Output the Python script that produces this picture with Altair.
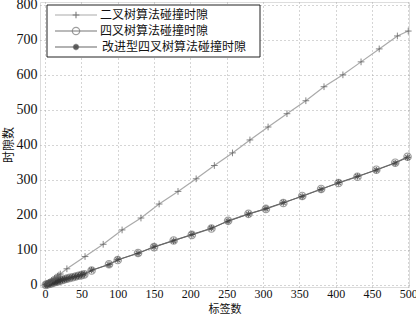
import altair as alt
import pandas as pd

# ---- data ----
bin_x = [1, 3, 5, 7, 9, 11, 13, 15, 17, 19, 21, 30, 55, 80, 106, 132, 157, 183, 208, 233,
         258, 282, 307, 333, 359, 384, 410, 435, 460, 485, 500]
bin_y = [1, 4, 7, 10, 13, 16, 19, 22, 25, 28, 31, 46, 81, 116, 157, 191, 231, 267, 303, 341,
         377, 414, 451, 489, 526, 566, 600, 637, 674, 711, 725]

quad_x = [1, 3, 5, 7, 9, 11, 13, 15, 17, 19, 21, 24, 27, 30, 34, 38, 42, 46, 50, 54, 64, 88,
          100, 128, 150, 177, 202, 229, 252, 280, 304, 328, 354, 380, 404, 430, 456, 482, 499]
quad_y = [0, 2, 3, 4, 5, 7, 8, 9, 10, 11, 13, 14, 16, 18, 20, 22, 24, 26, 28, 30, 41, 59,
          71, 91, 108, 127, 143, 161, 183, 203, 217, 234, 254, 274, 291, 309, 329, 349, 366]
impr_y = [0, 1, 3, 4, 6, 7, 8, 9, 11, 12, 13, 15, 16, 18, 20, 22, 24, 26, 29, 31, 42, 58,
          72, 90, 109, 126, 144, 162, 182, 202, 218, 235, 253, 273, 292, 310, 328, 348, 364]

labels = ["二叉树算法碰撞时隙", "四叉树算法碰撞时隙", "改进型四叉树算法碰撞时隙"]
x_ticks = [0, 50, 100, 150, 200, 250, 300, 350, 400, 450, 500]
y_ticks = [0, 100, 200, 300, 400, 500, 600, 700, 800]

PLUS = "M-1,0L1,0M0,-1L0,1"
STAR = "M-1,0L1,0M0,-1L0,1M-0.7,-0.7L0.7,0.7M-0.7,0.7L0.7,-0.7"

NUM_FONT = "Liberation Serif"
CJK_FONT = "Noto Sans CJK SC"

df_bin = pd.DataFrame({"x": bin_x, "y": bin_y})
df_quad = pd.DataFrame({"x": quad_x, "y": quad_y})
df_impr = pd.DataFrame({"x": quad_x, "y": impr_y})

xs = alt.Scale(domain=[-7, 501], nice=False, zero=False)
ys = alt.Scale(domain=[-6, 808], nice=False, zero=False)

X = alt.X("x:Q", scale=xs, axis=alt.Axis(
    values=x_ticks, title="标签数", labelFont=NUM_FONT, labelFontSize=12,
    titleFont=CJK_FONT, titleFontSize=11, titleFontWeight="normal", titlePadding=4,
    titleBaseline="top", labelPadding=1, ticks=False, domain=False, grid=True,
    gridDash=[1, 3], gridColor="#aaa", labelColor="#111", titleColor="#111",
    labelFlush=False))
Y = alt.Y("y:Q", scale=ys, axis=alt.Axis(
    values=y_ticks, title="时隙数", labelFont=NUM_FONT, labelFontSize=14,
    titleFont=CJK_FONT, titleFontSize=12, titleFontWeight="normal", titlePadding=1,
    labelPadding=3, ticks=False, domain=False, grid=True, gridDash=[1, 3],
    gridColor="#aaa", labelColor="#111", titleColor="#111"))

bin_line = alt.Chart(df_bin).mark_line(color="#aaaaaa", strokeWidth=1.2).encode(x=X, y=Y)
bin_pts = alt.Chart(df_bin).mark_point(shape=PLUS, size=45, color="#555", strokeWidth=1,
                                       filled=False).encode(x=X, y=Y)
quad_line = alt.Chart(df_quad).mark_line(color="#777777", strokeWidth=1.2).encode(x=X, y=Y)
quad_pts = alt.Chart(df_quad).mark_point(shape="circle", size=55, color="#777",
                                         strokeWidth=1.2, filled=False).encode(x=X, y=Y)
impr_line = alt.Chart(df_impr).mark_line(color="#666666", strokeWidth=1).encode(x=X, y=Y)
impr_pts = alt.Chart(df_impr).mark_point(shape=STAR, size=40, color="#333",
                                         strokeWidth=1.2, filled=False).encode(x=X, y=Y)

# ---- legend box ----
one = pd.DataFrame({"k": [0]})
leg_layers = [
    alt.Chart(one).mark_rect(fill="white", stroke="#222", strokeWidth=1).encode(
        x=alt.value(7), x2=alt.value(220), y=alt.value(3), y2=alt.value(55))
]
styles = [
    ("#aaaaaa", PLUS, "#555", 45, False),
    ("#777777", "circle", "#777", 55, False),
    ("#666666", STAR, "#333", 40, False),
]
for i, (lab, (lc, shp, mc, sz, fl)) in enumerate(zip(labels, styles)):
    yy = 13 + 16 * i
    d = pd.DataFrame({"label": [lab]})
    leg_layers.append(alt.Chart(d).mark_rule(color=lc, strokeWidth=1.2).encode(
        x=alt.value(15), x2=alt.value(57), y=alt.value(yy)))
    leg_layers.append(alt.Chart(d).mark_point(shape=shp, size=sz, color=mc, strokeWidth=1.2,
                                              filled=fl).encode(x=alt.value(36), y=alt.value(yy)))
    if i == 2:
        leg_layers.append(alt.Chart(d).mark_point(shape="circle", size=30, color="#555",
                                                  filled=True).encode(x=alt.value(36), y=alt.value(yy)))
    leg_layers.append(alt.Chart(d).mark_text(align="left", baseline="middle", font=CJK_FONT,
                                             fontSize=12, color="#111").encode(
        x=alt.value(60 if i < 2 else 62), y=alt.value(yy), text="label:N"))

chart = alt.layer(bin_line, quad_line, impr_line, quad_pts, impr_pts, bin_pts,
                  *leg_layers).properties(
    width=369, height=285,
    autosize=alt.AutoSizeParams(type="none"),
    padding={"left": 40, "top": 2, "right": 7, "bottom": 29},
).configure_view(stroke="#444", strokeWidth=1).configure(background="white")

chart.save("out.html", embed_options={"renderer": "svg", "actions": False})
